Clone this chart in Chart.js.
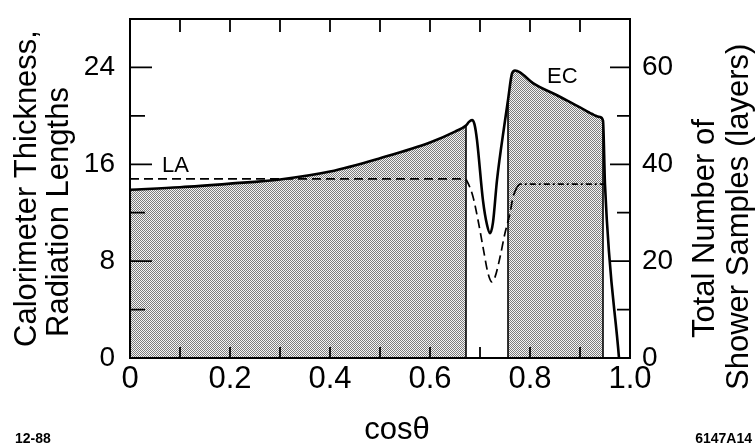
<!DOCTYPE html>
<html><head><meta charset="utf-8">
<script src="https://cdn.jsdelivr.net/npm/chart.js@4.4.1/dist/chart.umd.min.js"></script>
<style>html,body{margin:0;padding:0;background:#fff;}#wrap{width:755px;height:447px;position:relative;}</style>
</head><body><div id="wrap"><canvas id="c" width="755" height="447"></canvas></div>
<script>
// cos(theta) positions and calorimeter thickness (radiation lengths, left axis)
const thickX = [0, 0.1, 0.2, 0.3, 0.4, 0.5, 0.6, 0.65, 0.672, 0.678, 0.684, 0.689, 0.694, 0.706, 0.714, 0.72, 0.726, 0.734, 0.75, 0.756, 0.764, 0.77, 0.78, 0.806, 0.854, 0.9, 0.94, 0.946, 0.95, 0.978];
const thickY = [13.9, 14.1, 14.4, 14.75, 15.4, 16.5, 17.8, 18.7, 19.2, 19.5, 19.65, 19.3, 18.0, 13.0, 11.0, 10.3, 11.2, 14.7, 19.6, 21.3, 23.5, 23.75, 23.6, 22.7, 21.7, 20.7, 19.9, 19.6, 14.3, 0];
// shower samples (layers, right axis) - LA part (dashed)
const laLayersX = [0, 0.3, 0.6, 0.67, 0.676, 0.686, 0.696, 0.706, 0.716, 0.724, 0.73, 0.74, 0.75, 0.76, 0.766, 0.774];
const laLayersY = [37, 37, 37, 37, 36.1, 33.3, 28.5, 22.9, 17.5, 15.7, 16.7, 20.8, 25.8, 29.9, 33.2, 35.3];
// EC part (dash-dot)
const ecLayersX = [0.774, 0.78, 0.95];
const ecLayersY = [35.3, 35.9, 35.9];
// shaded regions (cos theta ranges)
const laShadeRange = [0, 0.672];
const ecShadeRange = [0.756, 0.946];
// tick labels
const xTickLabels = ['0', '0.2', '0.4', '0.6', '0.8', '1.0'];
const leftTickLabels = [0, 8, 16, 24];
const rightTickLabels = [0, 20, 40, 60];

const FONT = '"Liberation Sans", Arial, Helvetica, sans-serif';
const pts = (xs, ys) => xs.map((x, i) => ({x: x, y: ys[i]}));
const thick = pts(thickX, thickY);
const laShade = thick.filter(p => p.x >= laShadeRange[0] && p.x <= laShadeRange[1]);
const ecShade = thick.filter(p => p.x >= ecShadeRange[0] && p.x <= ecShadeRange[1]);
// vertical outline edges of the shaded regions, taken from the shade data
const edge = p => [{x: p.x, y: 0}, {x: p.x, y: p.y}];
const edges = [edge(laShade[laShade.length - 1]), edge(ecShade[0]), edge(ecShade[ecShade.length - 1])];

// halftone stipple pattern
const pc = document.createElement('canvas'); pc.width = 2; pc.height = 2;
const pctx = pc.getContext('2d');
pctx.fillStyle = '#f4f4f4'; pctx.fillRect(0,0,2,2);
pctx.fillStyle = '#7c7c7c'; pctx.fillRect(0,0,1,1); pctx.fillRect(1,1,1,1);
const stipple = document.getElementById('c').getContext('2d').createPattern(pc, 'repeat');

const framePlugin = {
  id: 'frame',
  afterDatasetsDraw(chart) {
    const {ctx, chartArea: a, scales} = chart;
    ctx.save();
    ctx.strokeStyle = '#000'; ctx.lineWidth = 2;
    ctx.strokeRect(a.left, a.top, a.right - a.left, a.bottom - a.top);
    ctx.lineWidth = 1.8;
    ctx.beginPath();
    for (let i = 1; i <= 9; i++) {
      const px = scales.x.getPixelForValue(i / 10);
      ctx.moveTo(px, a.bottom); ctx.lineTo(px, a.bottom - 11);
      ctx.moveTo(px, a.top); ctx.lineTo(px, a.top + 13);
    }
    for (let v = 4; v <= 24; v += 4) {
      const py = scales.y.getPixelForValue(v);
      const len = (v % 8 === 0) ? 22 : 15;
      ctx.moveTo(a.left, py); ctx.lineTo(a.left + len, py);
    }
    for (let v = 10; v <= 60; v += 10) {
      const py = scales.y2.getPixelForValue(v);
      const len = (v % 20 === 0) ? 20 : 13;
      ctx.moveTo(a.right, py); ctx.lineTo(a.right - len, py);
    }
    ctx.stroke();
    ctx.fillStyle = '#000';
    ctx.font = '22px ' + FONT;
    ctx.textBaseline = 'middle'; ctx.textAlign = 'left';
    ctx.fillText('LA', a.left + 32, scales.y.getPixelForValue(16) + 2);
    ctx.fillText('EC', scales.x.getPixelForValue(0.834), scales.y.getPixelForValue(23.2));
    ctx.restore();
  },
  afterDraw(chart) {
    const {ctx} = chart;
    ctx.save();
    ctx.fillStyle = '#000';
    ctx.textBaseline = 'middle'; ctx.textAlign = 'left';
    ctx.font = '31px ' + FONT;
    const vtext = (t, x, y) => { ctx.save(); ctx.translate(x, y); ctx.rotate(-Math.PI/2); ctx.fillText(t, 0, 0); ctx.restore(); };
    vtext('Calorimeter Thickness,', 27, 347);
    vtext('Radiation Lengths', 59, 337);
    vtext('Total Number of', 705, 338);
    vtext('Shower Samples (layers)', 739, 390);
    ctx.textAlign = 'center';
    ctx.fillText('cos\u03B8', 397, 430);
    ctx.font = 'bold 14px ' + FONT;
    ctx.textAlign = 'left';
    ctx.fillText('12-88', 15, 439);
    ctx.textAlign = 'right';
    ctx.fillText('6147A14', 752, 439);
    ctx.restore();
  }
};

const noPad = s => { s.paddingTop = 0; s.paddingBottom = 0; };

const edgeSets = edges.map((e, i) => ({label: 'edge ' + i, order: 3, data: e, yAxisID: 'y', borderColor: '#000', borderWidth: 1.6, pointRadius: 0, fill: false, tension: 0}));

new Chart(document.getElementById('c'), {
  type: 'line',
  data: {
    datasets: [
      {label: 'LA shade', order: 10, data: laShade, yAxisID: 'y', borderWidth: 0, pointRadius: 0, backgroundColor: stipple, fill: 'origin', cubicInterpolationMode: 'monotone'},
      {label: 'EC shade', order: 10, data: ecShade, yAxisID: 'y', borderWidth: 0, pointRadius: 0, backgroundColor: stipple, fill: 'origin', cubicInterpolationMode: 'monotone'},
      ...edgeSets,
      {label: 'Thickness', order: 1, data: thick, yAxisID: 'y', borderColor: '#000', borderWidth: 2.6, pointRadius: 0, fill: false, cubicInterpolationMode: 'monotone'},
      {label: 'LA layers', order: 2, data: pts(laLayersX, laLayersY), yAxisID: 'y2', borderColor: '#000', borderWidth: 1.7, borderDash: [9, 5], pointRadius: 0, fill: false, cubicInterpolationMode: 'monotone'},
      {label: 'EC layers', order: 2, data: pts(ecLayersX, ecLayersY), yAxisID: 'y2', borderColor: '#000', borderWidth: 1.7, borderDash: [6, 3, 2, 3], pointRadius: 0, fill: false, cubicInterpolationMode: 'monotone'}
    ]
  },
  options: {
    responsive: false, animation: false,
    layout: {padding: {top: 19, left: 0, right: 0, bottom: 0}},
    plugins: {legend: {display: false}, tooltip: {enabled: false}},
    scales: {
      x: {type: 'linear', min: 0, max: 1, position: 'bottom',
          grid: {display: false, drawTicks: false}, border: {display: false},
          ticks: {stepSize: 0.2, autoSkip: false, maxRotation: 0, padding: 3, color: '#000',
                  font: {size: 31, family: FONT},
                  callback: v => xTickLabels[Math.round(v * 5)] ?? ''},
          afterFit: s => { s.height = 89; s.paddingLeft = 0; s.paddingRight = 0; }},
      y: {position: 'left', min: 0, max: 28,
          grid: {display: false, drawTicks: false}, border: {display: false},
          ticks: {stepSize: 4, autoSkip: false, padding: 15, color: '#000', font: {size: 28, family: FONT},
                  callback: v => leftTickLabels.includes(v) ? String(v) : ''},
          afterFit: s => { s.width = 130; noPad(s); }},
      y2: {position: 'right', min: 0, max: 70,
          grid: {display: false, drawTicks: false}, border: {display: false},
          ticks: {stepSize: 10, autoSkip: false, padding: 12, color: '#000', font: {size: 28, family: FONT},
                  callback: v => rightTickLabels.includes(v) ? String(v) : ''},
          afterFit: s => { s.width = 125; noPad(s); }}
    }
  },
  plugins: [framePlugin]
});
</script></body></html>
